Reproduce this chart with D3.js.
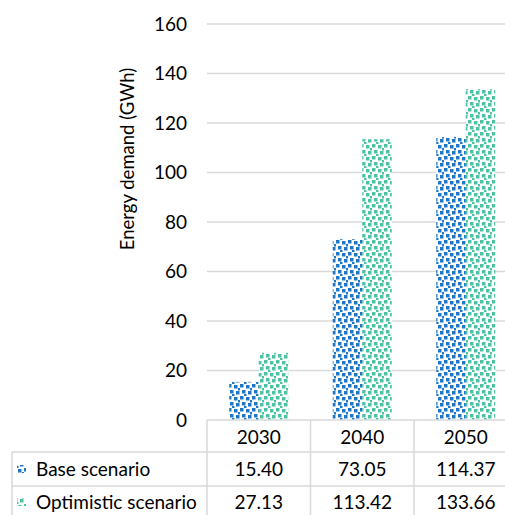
<!DOCTYPE html>
<html><head><meta charset="utf-8">
<script src="https://cdn.jsdelivr.net/npm/d3@7/dist/d3.min.js"></script>
<style>body{margin:0;background:#fff;}svg{display:block;}text{font-family:Lato,"Open Sans",sans-serif;fill:#000;}</style>
</head><body><svg id="c" width="505" height="515"></svg>
<script>
const categories = ["2030","2040","2050"];
const seriesNames = ["Base scenario","Optimistic scenario"];
const baseValues = [15.40, 73.05, 114.37];
const optimisticValues = [27.13, 113.42, 133.66];
const yTicks = [0,20,40,60,80,100,120,140,160];
const seriesColors = ["#1f76c6","#4cc2a4"];

const svg = d3.select("#c");
const defs = svg.append("defs");
const series = [baseValues, optimisticValues];
seriesColors.forEach((col,i)=>{
  const p = defs.append("pattern").attr("id","pat"+i).attr("patternUnits","userSpaceOnUse")
    .attr("width",12).attr("height",12);
  p.append("rect").attr("width",12).attr("height",12).attr("fill","#fff");
  [[0,0,3.5,3.5],[6,1,3.5,3.5],[2,6,3.5,3.5],[8,7,3.5,3.5],[4,10,2.5,2],[10,4,2,2.5]].forEach(r=>{
    p.append("rect").attr("x",r[0]).attr("y",r[1]).attr("width",r[2]).attr("height",r[3]).attr("fill",col);
  });
});

const x0 = 207, bandW = 103.5;
const x = d3.scaleBand().domain(categories).range([x0, x0+bandW*categories.length]).padding(0);
const xs = d3.scaleBand().domain(seriesNames).range([22.25, bandW-22.25]).padding(0);
const y = d3.scaleLinear().domain([0,160]).range([420,24]);
const fs = 19;

// gridlines
svg.append("g").selectAll("line").data(yTicks.filter(t=>t>0)).join("line")
  .attr("x1",x0).attr("x2",505).attr("y1",d=>y(d)).attr("y2",d=>y(d))
  .attr("stroke","#d9d9d9").attr("stroke-width",1.5);

// tick labels
svg.append("g").selectAll("text").data(yTicks).join("text")
  .attr("x",187).attr("y",d=>y(d)).attr("dy","0.35em").attr("text-anchor","end")
  .attr("font-size",fs).text(d=>d);

// y title
svg.append("text").attr("transform","translate(134,159) rotate(-90)")
  .attr("text-anchor","middle").attr("font-size",18.5).text("Energy demand (GWh)");

// bars
categories.forEach((c,ci)=>{
  series.forEach((s,si)=>{
    svg.append("rect").attr("x",x(c)+xs(seriesNames[si])).attr("width",xs.bandwidth())
      .attr("y",y(s[ci])).attr("height",y(0)-y(s[ci])).attr("fill","url(#pat"+si+")");
  });
});

// table
const tcol = "#d9d9d9";
const rowY = [420,452,486,520];
const tbl = svg.append("g");
tbl.append("line").attr("x1",x0).attr("x2",505).attr("y1",420).attr("y2",420).attr("stroke",tcol).attr("stroke-width",1.5);
[452,486].forEach(yy=>tbl.append("line").attr("x1",12).attr("x2",505).attr("y1",yy).attr("y2",yy).attr("stroke",tcol).attr("stroke-width",1.5));
tbl.append("line").attr("x1",12).attr("x2",12).attr("y1",452).attr("y2",515).attr("stroke",tcol).attr("stroke-width",1.5);
categories.forEach((c,ci)=>{
  tbl.append("line").attr("x1",x(c)).attr("x2",x(c)).attr("y1",420).attr("y2",515).attr("stroke",tcol).attr("stroke-width",1.5);
  tbl.append("text").attr("x",x(c)+bandW/2).attr("y",(rowY[0]+rowY[1])/2+1).attr("dy","0.35em")
    .attr("text-anchor","middle").attr("font-size",fs).text(c);
  series.forEach((s,si)=>{
    tbl.append("text").attr("x",x(c)+bandW/2).attr("y",(rowY[si+1]+rowY[si+2])/2 - (si===1?1:0)).attr("dy","0.35em")
      .attr("text-anchor","middle").attr("font-size",fs).text(s[ci].toFixed(2));
  });
});
seriesNames.forEach((n,si)=>{
  const cy = (rowY[si+1]+rowY[si+2])/2 - (si===1?1:0);
  tbl.append("rect").attr("x",17).attr("y",cy-4).attr("width",9).attr("height",8).attr("fill","url(#pat"+si+")");
  tbl.append("text").attr("x",36).attr("y",cy).attr("dy","0.35em").attr("font-size",fs).text(n);
});
</script></body></html>
